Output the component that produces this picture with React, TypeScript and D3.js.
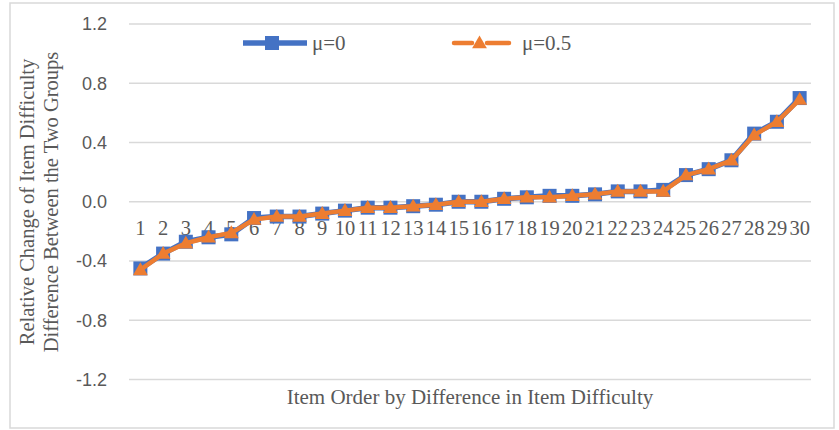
import React from "react";
import * as d3 from "d3";

const categories = d3.range(1, 31).map(String);
const seriesNames = ["μ=0", "μ=0.5"];
const mu0 = [-0.45, -0.35, -0.27, -0.24, -0.22, -0.11, -0.1, -0.1, -0.08, -0.06, -0.04, -0.04, -0.03, -0.02, 0.0, 0.0, 0.02, 0.03, 0.04, 0.04, 0.05, 0.07, 0.07, 0.08, 0.18, 0.22, 0.28, 0.46, 0.54, 0.7];
const mu05 = [-0.46, -0.35, -0.28, -0.24, -0.21, -0.12, -0.1, -0.1, -0.08, -0.06, -0.04, -0.04, -0.03, -0.02, 0.0, 0.0, 0.02, 0.03, 0.03, 0.04, 0.05, 0.07, 0.07, 0.07, 0.18, 0.22, 0.28, 0.45, 0.54, 0.69];
const yTicks = [-1.2, -0.8, -0.4, 0.0, 0.4, 0.8, 1.2];

const W = 839;
const H = 430;
const BLUE = "#4472C4";
const ORANGE = "#ED7D31";
const SERIF = "'Liberation Serif', 'Times New Roman', serif";
const SANS = "'Liberation Sans', Arial, sans-serif";

export default function App() {
  const x = d3.scaleBand<string>().domain(categories).range([129, 811]);
  const y = d3.scaleLinear().domain([-1.2, 1.2]).range([379.5, 24]);
  const cx = (c: string) => (x(c) as number) + x.bandwidth() / 2;
  const line = d3
    .line<number>()
    .x((_, i) => cx(categories[i]))
    .y((d) => y(d));
  const tri = d3.symbol().type(d3.symbolTriangle).size(95)();
  const fmt = (t: number) => d3.format(".1f")(t).replace("−", "-");

  return (
    <svg width={W} height={H} style={{ position: "absolute", left: 0, top: 0, background: "#fff" }}>
      <rect x={10} y={3} width={824} height={425} fill="#fff" stroke="#d9d9d9" strokeWidth={1.5} />
      {yTicks.map((t) => (
        <g key={t}>
          <line x1={129} x2={811} y1={y(t)} y2={y(t)} stroke="#d9d9d9" strokeWidth={1.5} />
          <text x={107} y={y(t)} dy="0.35em" textAnchor="end" fontFamily={SANS} fontSize={18} fill="#595959">
            {fmt(t)}
          </text>
        </g>
      ))}
      {categories.map((c) => (
        <text key={c} x={cx(c)} y={235} textAnchor="middle" fontFamily={SERIF} fontSize={20.5} fill="#595959">
          {c}
        </text>
      ))}
      <path d={line(mu0) || ""} fill="none" stroke={BLUE} strokeWidth={5.5} strokeLinejoin="round" />
      {mu0.map((v, i) => (
        <rect key={"s" + i} x={cx(categories[i]) - 7} y={y(v) - 7} width={14} height={14} fill={BLUE} />
      ))}
      <path d={line(mu05) || ""} fill="none" stroke={ORANGE} strokeWidth={4.5} strokeLinejoin="round" />
      {mu05.map((v, i) => (
        <path key={"t" + i} d={tri || ""} transform={`translate(${cx(categories[i])},${y(v) + 1})`} fill={ORANGE} />
      ))}
      {/* legend */}
      <line x1={243} x2={307} y1={43} y2={43} stroke={BLUE} strokeWidth={5.5} />
      <rect x={265} y={36} width={14} height={14} fill={BLUE} />
      <text x={312} y={43} dy="0.35em" fontFamily={SERIF} fontSize={21} fill="#595959">
        {seriesNames[0]}
      </text>
      <line x1={454} x2={472} y1={43} y2={43} stroke={ORANGE} strokeWidth={4.5} strokeLinecap="round" />
      <line x1={487} x2={509} y1={43} y2={43} stroke={ORANGE} strokeWidth={4.5} strokeLinecap="round" />
      <path d={tri || ""} transform="translate(479.5,44)" fill={ORANGE} />
      <text x={522} y={43} dy="0.35em" fontFamily={SERIF} fontSize={21} fill="#595959">
        {seriesNames[1]}
      </text>
      {/* axis titles */}
      <text x={470} y={397} dy="0.35em" textAnchor="middle" fontFamily={SERIF} fontSize={21} fill="#595959">
        Item Order by Difference in Item Difficulty
      </text>
      <g transform="translate(0,202) rotate(-90)">
        <text x={0} y={34} textAnchor="middle" fontFamily={SERIF} fontSize={20.5} fill="#595959">
          Relative Change of Item Difficulty
        </text>
        <text x={0} y={58} textAnchor="middle" fontFamily={SERIF} fontSize={20.5} fill="#595959">
          Difference Between the Two Groups
        </text>
      </g>
    </svg>
  );
}
